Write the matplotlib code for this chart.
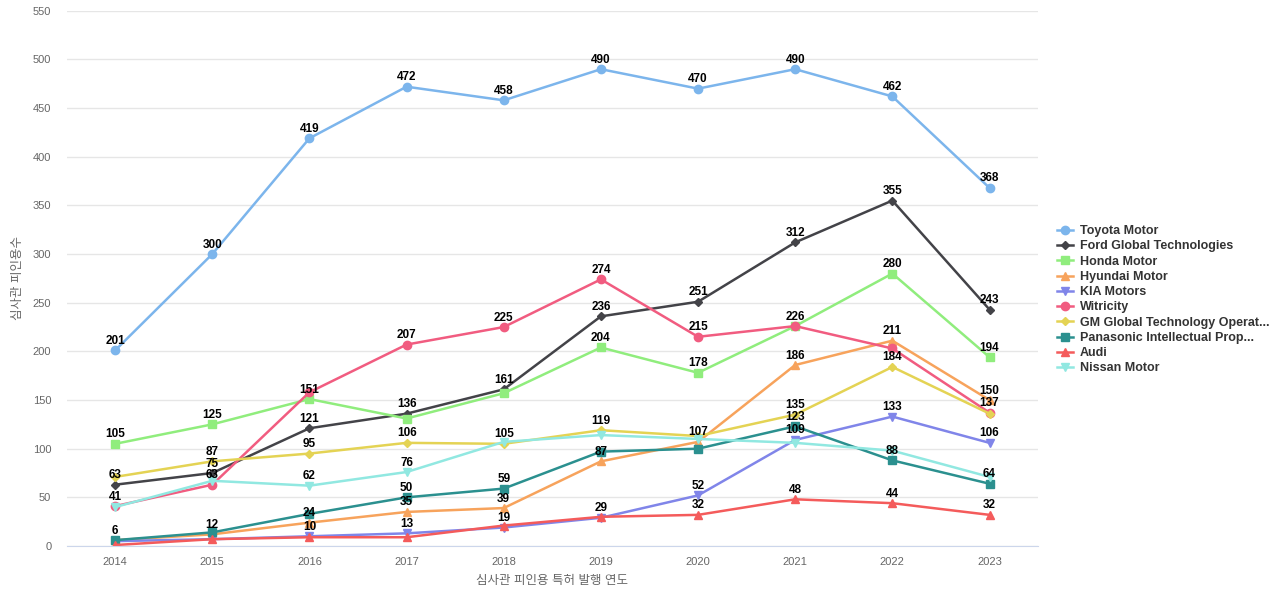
import matplotlib
matplotlib.use("Agg")
import matplotlib.pyplot as plt
from matplotlib.transforms import Bbox

plt.rcParams['font.family'] = ['Liberation Sans', 'Noto Sans CJK KR', 'DejaVu Sans']

# data
years = [2014, 2015, 2016, 2017, 2018, 2019, 2020, 2021, 2022, 2023]

toyota = [201, 300, 419, 472, 458, 490, 470, 490, 462, 368]
ford = [63, 75, 121, 136, 161, 236, 251, 312, 355, 243]
honda = [105, 125, 151, 131, 157, 204, 178, 226, 280, 194]
hyundai = [6, 12, 24, 35, 39, 87, 107, 186, 211, 150]
kia = [5, 7, 10, 13, 19, 29, 52, 109, 133, 106]
witricity = [41, 63, 158, 207, 225, 274, 215, 226, 203, 137]
gm = [71, 87, 95, 106, 105, 119, 113, 135, 184, 136]
panasonic = [6, 14, 33, 50, 59, 97, 100, 123, 88, 64]
audi = [1, 7, 9, 9, 21, 30, 32, 48, 44, 32]
nissan = [40, 67, 62, 76, 107, 114, 110, 106, 98, 71]

names = ['Toyota Motor', 'Ford Global Technologies', 'Honda Motor', 'Hyundai Motor',
         'KIA Motors', 'Witricity', 'GM Global Technology Operat...',
         'Panasonic Intellectual Prop...', 'Audi', 'Nissan Motor']
series = [toyota, ford, honda, hyundai, kia, witricity, gm, panasonic, audi, nissan]
colors = ['#7cb5ec', '#434348', '#90ed7d', '#f7a35c', '#8085e9',
          '#f15c80', '#e4d354', '#2b908f', '#f45b5b', '#91e8e1']
markers = ['o', 'D', 's', '^', 'v', 'o', 'D', 's', '^', 'v']
msizes = [6, 4.5, 6, 6, 6, 6, 4.5, 6, 6, 6]

fig = plt.figure(figsize=(12.8, 6), dpi=100)
ax = fig.add_axes([0.052, 0.09, 0.759, 0.892])

for vals, name, c, m, ms in zip(series, names, colors, markers, msizes):
    ax.plot(years, vals, color=c, marker=m, markersize=ms, linewidth=1.8, label=name)

ax.set_xlim(2013.5, 2023.5)
ax.set_ylim(0, 550)
ax.set_xticks(years)
ax.set_yticks(range(0, 551, 50))
ax.tick_params(axis='both', length=0, labelsize=8, colors='#666666')
ax.tick_params(axis='x', pad=8)
ax.tick_params(axis='y', pad=11)
ax.grid(axis='y', color='#e6e6e6', linewidth=1)
ax.set_axisbelow(True)
for s in ['top', 'right', 'left']:
    ax.spines[s].set_visible(False)
ax.spines['bottom'].set_color('#ccd6eb')

ax.set_xlabel('심사관 피인용 특허 발행 연도', fontsize=9, color='#666666', labelpad=6)
ax.set_ylabel('심사관 피인용수', fontsize=9, color='#666666', labelpad=6)

# data labels; like the original, a label that collides with one already
# placed (earlier series first) is hidden
fig.canvas.draw()
renderer = fig.canvas.get_renderer()
placed = []
box_h = 11.2
for vals in series:
    for x, v in zip(years, vals):
        t = ax.annotate(str(v), (x, v), xytext=(0, 2.5), textcoords='offset points',
                        ha='center', va='bottom', fontsize=8.5, fontweight='bold',
                        color='#000000')
        bb = t.get_window_extent(renderer)
        cy = (bb.y0 + bb.y1) / 2
        bb = Bbox([[bb.x0 + 1, cy - box_h / 2], [bb.x1 - 1, cy + box_h / 2]])
        if any(bb.overlaps(p) for p in placed):
            t.remove()
        else:
            placed.append(bb)

leg = fig.legend(loc='upper left', bbox_to_anchor=(0.822, 0.633), frameon=False,
                 fontsize=9, handlelength=1.3, handletextpad=0.5, labelspacing=0.26,
                 borderaxespad=0)
for txt in leg.get_texts():
    txt.set_fontweight('bold')
    txt.set_color('#333333')

fig.savefig('out.png', dpi=100)
